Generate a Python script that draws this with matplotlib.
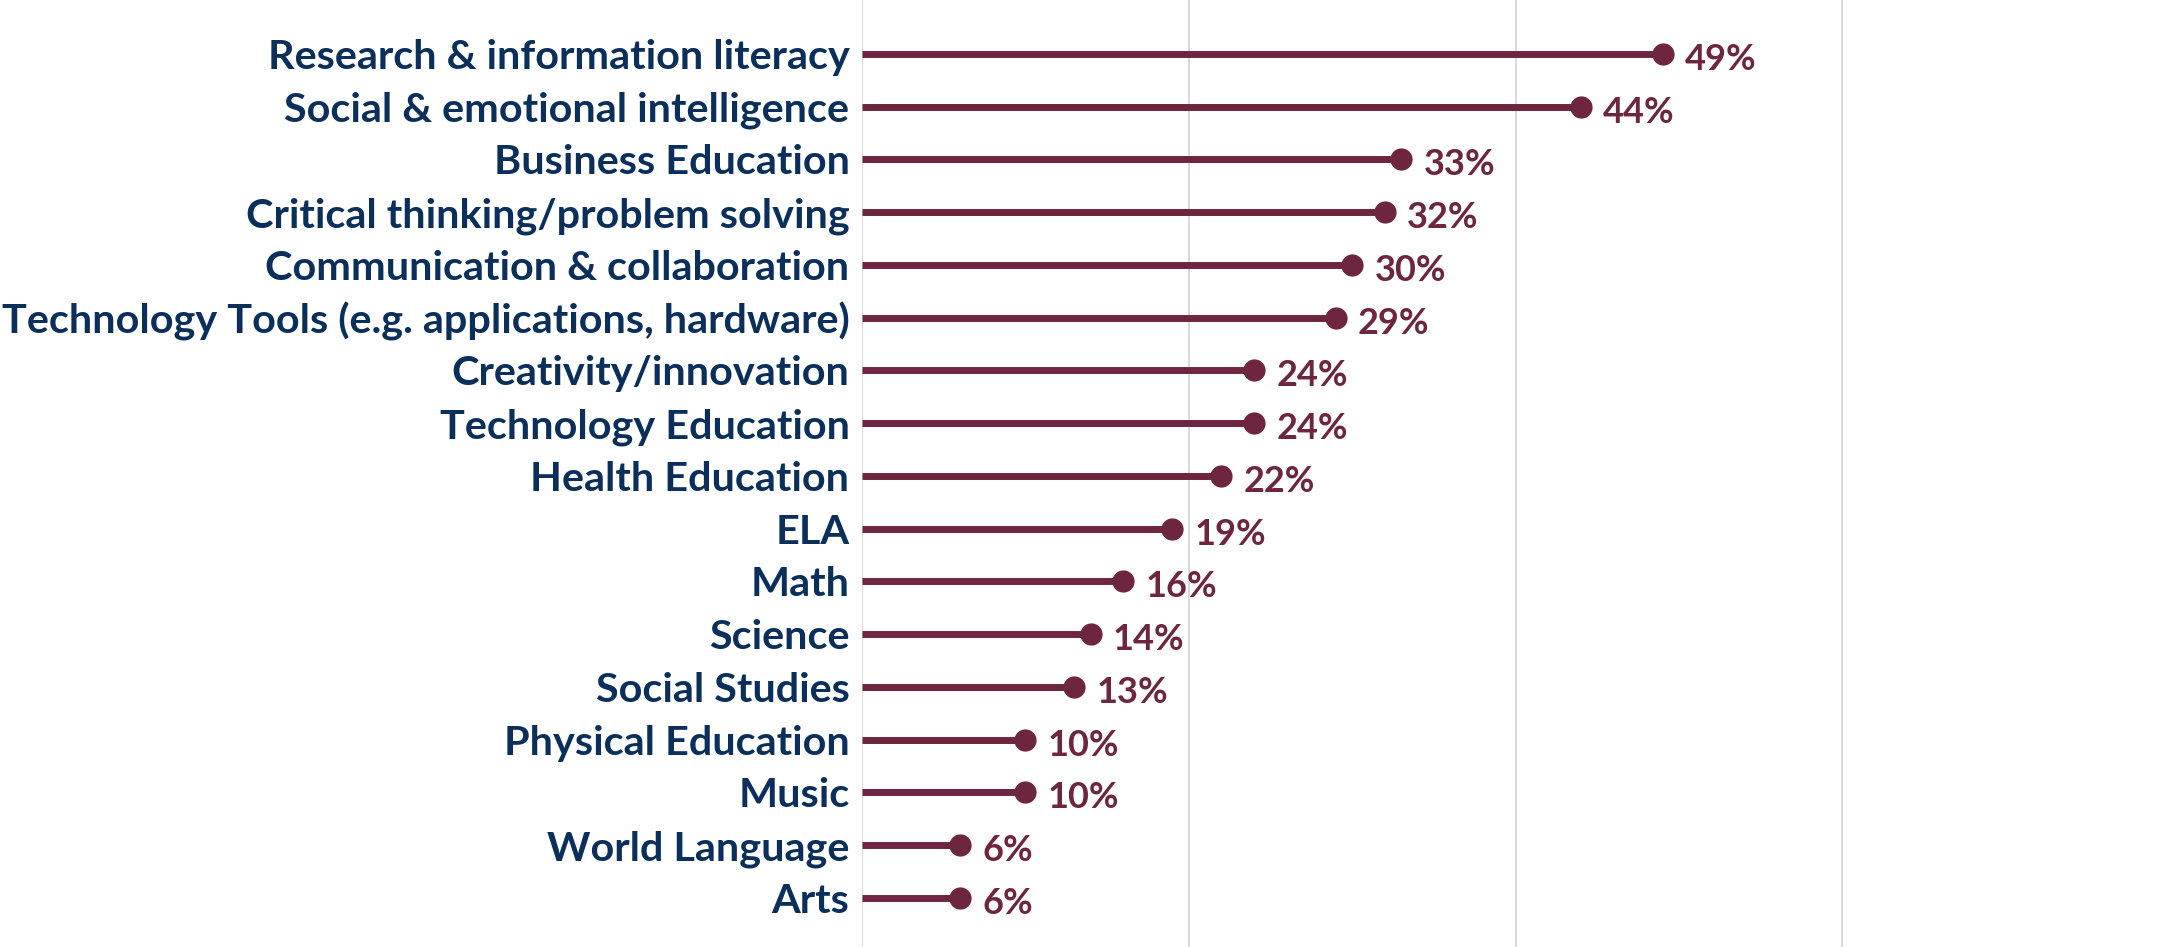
import matplotlib.pyplot as plt

# --- DATA ---
skills = [
    "Research & information literacy",
    "Social & emotional intelligence",
    "Business Education",
    "Critical thinking/problem solving",
    "Communication & collaboration",
    "Technology Tools (e.g. applications, hardware)",
    "Creativity/innovation",
    "Technology Education",
    "Health Education",
    "ELA",
    "Math",
    "Science",
    "Social Studies",
    "Physical Education",
    "Music",
    "World Language",
    "Arts",
]
pct = [49, 44, 33, 32, 30, 29, 24, 24, 22, 19, 16, 14, 13, 10, 10, 6, 6]

# --- STYLE ---
MAROON = "#6E2640"
NAVY = "#0B2F5B"
GRID = "#D9D9D9"
FONT = "Lato"

fig = plt.figure(figsize=(21.69, 9.47), dpi=100)
ax = fig.add_axes([862 / 2169, 0, 1 - 862 / 2169, 1])

rows = list(range(len(skills)))

# lollipop stems and heads
ax.hlines(rows, 0, pct, color=MAROON, linewidth=5, zorder=3)
ax.plot(pct, rows, "o", color=MAROON, markersize=15, zorder=4)

for y, v in zip(rows, pct):
    ax.annotate(f"{v}%", (v, y), xytext=(16, -4), textcoords="offset points",
                ha="left", va="center", fontsize=26, fontweight="bold",
                color=MAROON, family=FONT)

ax.set_xlim(0, 80)
ax.set_ylim(16.93, -1.02)
ax.set_xticks([0, 20, 40, 60])
ax.xaxis.grid(True, color=GRID, linewidth=1.4)
ax.set_axisbelow(True)
ax.tick_params(axis="x", length=0, labelbottom=False)

ax.set_yticks(rows)
ax.set_yticklabels(skills, fontsize=29.8, fontweight="bold", color=NAVY, family=FONT)
ax.tick_params(axis="y", length=0, pad=9)

for s in ax.spines.values():
    s.set_visible(False)

plt.savefig("out.png", dpi=100)
